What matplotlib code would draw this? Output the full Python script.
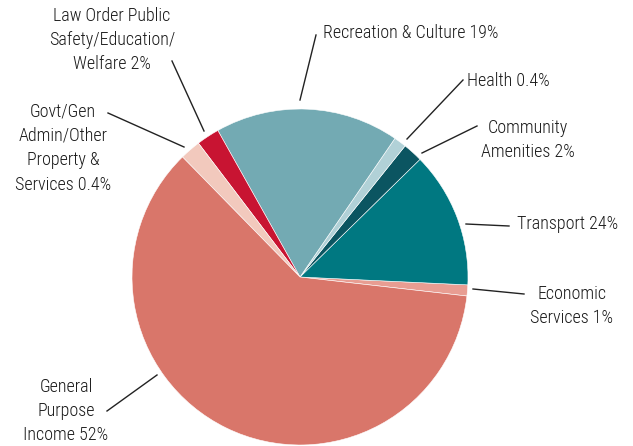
import matplotlib
matplotlib.use("Agg")
import matplotlib.pyplot as plt

# slice shares as drawn (the printed labels are kept verbatim)
categories = ["Economic Services", "Transport", "Community Amenities", "Health",
              "Recreation & Culture", "Law Order Public Safety/Education/Welfare",
              "Govt/Gen Admin/Other Property & Services", "General Purpose Income"]
shares = [1.06, 13.1, 1.9, 1.2, 17.7, 2.2, 2.0, 60.9]
labels = ["Economic\nServices 1%", "Transport 24%", "Community\nAmenities 2%",
          "Health 0.4%", "Recreation & Culture 19%",
          "Law Order Public\nSafety/Education/\nWelfare 2%",
          "Govt/Gen\nAdmin/Other\nProperty &\nServices 0.4%",
          "General\nPurpose\nIncome 52%"]
colors = ["#e89d92", "#007881", "#0b5561", "#b1d1d7", "#73aab3",
          "#c81432", "#f2c9bd", "#d9766a"]

W, H = 633, 446
# label layout in pixel coords (x, y from top): text anchor, alignment, leader start/end
layout = [
    ((572, 306), "center", (473, 289), (524, 294)),
    ((517, 224), "left", (466, 224), (509, 226)),
    ((528, 140), "center", (422, 153), (477, 126)),
    ((467, 81), "left", (407, 139), (463, 80)),
    ((323, 33), "left", (300, 100), (316, 35)),
    ((112, 40), "center", (204, 131), (172, 61)),
    ((63, 148), "center", (184, 147), (108, 113)),
    ((66, 411), "center", (157, 375), (107, 411)),
]

plt.rcParams["font.family"] = ["Roboto Condensed", "Roboto", "DejaVu Sans"]

fig = plt.figure(figsize=(W / 100, H / 100), dpi=100)
ax = fig.add_axes([0, 0, 1, 1])
ax.pie(shares, colors=colors, startangle=-6.5, counterclock=True,
       center=(300, H - 277), radius=168,
       wedgeprops=dict(edgecolor="white", linewidth=0.4))

for lab, (txy, ha, p0, p1) in zip(labels, layout):
    ax.plot([p0[0], p1[0]], [H - p0[1], H - p1[1]], color="#222222", lw=1.0)
    ax.text(txy[0], H - txy[1], lab, ha=ha, va="center", fontsize=13,
            fontweight=300, color="#1a1a1a", linespacing=1.46,
            multialignment="center")

ax.set_xlim(0, W)
ax.set_ylim(0, H)
ax.set_aspect("equal")
ax.axis("off")
fig.savefig("out.png", dpi=100, facecolor="white")
plt.close(fig)
